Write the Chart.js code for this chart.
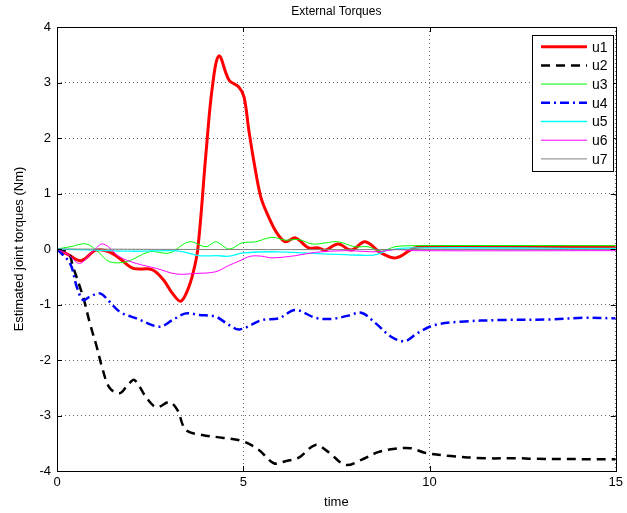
<!DOCTYPE html>
<html>
<head>
<meta charset="utf-8">
<script src="https://cdn.jsdelivr.net/npm/chart.js@4.4.1/dist/chart.umd.min.js"></script>
<style>
  html, body { margin: 0; padding: 0; background: #fff; }
  #wrap { width: 627px; height: 513px; }
</style>
</head>
<body>
<div id="wrap"><canvas id="chart" width="627" height="513"></canvas></div>
<script>
// Series data (time, torque)
const seriesNames = ['u1', 'u2', 'u3', 'u4', 'u5', 'u6', 'u7'];

const u1T = [0, 0.3, 0.65, 1.05, 1.4, 1.7, 2.05, 2.55, 2.85, 3.1, 3.32, 3.5, 3.65, 3.78, 4.0, 4.17, 4.35, 4.62, 4.88, 5.02, 5.15, 5.28, 5.47, 5.68, 5.9, 6.13, 6.4, 6.75, 7.02, 7.2, 7.55, 7.9, 8.27, 8.7, 9.1, 9.6, 10, 15];
const u1V = [0, -0.1, -0.21, -0.02, -0.05, -0.18, -0.35, -0.37, -0.55, -0.8, -0.94, -0.75, -0.44, 0, 1.73, 2.92, 3.48, 3.04, 2.92, 2.74, 2.14, 1.6, 0.94, 0.58, 0.29, 0.13, 0.2, 0.02, 0.02, -0.02, 0.09, -0.02, 0.13, -0.07, -0.16, 0.02, 0.04, 0.04];

const u2T = [0, 0.3, 0.43, 0.7, 0.88, 1.07, 1.23, 1.41, 1.68, 1.9, 2.08, 2.39, 2.67, 3.02, 3.23, 3.46, 3.9, 4.43, 4.97, 5.42, 5.82, 6.15, 6.49, 6.94, 7.29, 7.74, 8.17, 8.62, 9.07, 9.5, 9.87, 10.57, 11.48, 12.36, 12.8, 15];
const u2V = [0, -0.06, -0.32, -0.86, -1.33, -1.77, -2.18, -2.5, -2.6, -2.45, -2.36, -2.67, -2.85, -2.76, -2.9, -3.26, -3.35, -3.4, -3.46, -3.62, -3.86, -3.82, -3.76, -3.53, -3.66, -3.89, -3.8, -3.66, -3.6, -3.59, -3.67, -3.73, -3.77, -3.77, -3.78, -3.79];

const u3T = [0, 0.35, 0.79, 1.15, 1.41, 1.87, 2.48, 3.02, 3.55, 4.0, 4.26, 4.62, 4.97, 5.33, 5.77, 6.13, 6.49, 6.85, 7.2, 7.55, 8.0, 8.35, 8.7, 9.07, 9.6, 15];
const u3V = [0, 0.04, 0.09, -0.08, -0.23, -0.23, -0.05, -0.07, 0.13, 0.04, 0.13, 0, 0.11, 0.13, 0.21, 0.16, 0.17, 0.09, 0.11, 0.13, 0.04, 0.04, -0.04, 0.04, 0.06, 0.06];

const u4T = [0, 0.35, 0.53, 0.7, 0.88, 1.15, 1.41, 1.68, 2.13, 2.75, 3.1, 3.46, 3.82, 4.26, 4.62, 4.9, 5.5, 5.95, 6.4, 6.94, 7.37, 7.82, 8.17, 8.54, 8.97, 9.34, 9.69, 10.14, 10.84, 11.9, 13.25, 14.14, 15];
const u4V = [0, -0.26, -0.68, -0.92, -0.86, -0.8, -0.95, -1.13, -1.25, -1.4, -1.28, -1.16, -1.19, -1.22, -1.37, -1.45, -1.28, -1.25, -1.1, -1.24, -1.26, -1.2, -1.15, -1.33, -1.58, -1.66, -1.51, -1.37, -1.31, -1.28, -1.27, -1.24, -1.25];

const u5T = [0, 1, 2, 3, 3.4, 3.8, 4.3, 4.62, 5.0, 5.9, 6.85, 7.73, 8.5, 8.9, 9.5, 15];
const u5V = [0, -0.02, -0.04, -0.03, -0.05, -0.12, -0.12, -0.13, -0.07, -0.05, -0.08, -0.1, -0.11, -0.02, 0.02, 0.01];

const u6T = [0, 0.3, 0.61, 0.95, 1.24, 1.68, 2.13, 2.67, 3.2, 3.73, 4.26, 4.6, 4.88, 5.2, 5.5, 5.77, 6.4, 6.94, 7.73, 8.6, 9.1, 9.6, 15];
const u6V = [0, -0.1, -0.26, -0.05, 0.09, -0.14, -0.26, -0.35, -0.45, -0.44, -0.41, -0.3, -0.22, -0.13, -0.13, -0.16, -0.12, -0.06, -0.03, -0.05, -0.01, -0.03, -0.03];

const u7T = [0, 5, 10, 15];
const u7V = [0, -0.01, -0.01, -0.01];

const xTicks = [0, 5, 10, 15];
const yTicks = [-4, -3, -2, -1, 0, 1, 2, 3, 4];

// Line styles in MATLAB default look
const styles = [
    { color: '#ff0000', width: 3, dash: [] },
    { color: '#000000', width: 2.5, dash: [9, 6] },
    { color: '#00ff00', width: 1, dash: [] },
    { color: '#0000ff', width: 2.5, dash: [9, 4, 2, 4] },
    { color: '#00ffff', width: 1.3, dash: [] },
    { color: '#ff00ff', width: 1, dash: [] },
    { color: '#7f7f7f', width: 1, dash: [] }
];

function zip(t, v) {
    return t.map((x, i) => ({ x: x, y: v[i] }));
}

const allT = [u1T, u2T, u3T, u4T, u5T, u6T, u7T];
const allV = [u1V, u2V, u3V, u4V, u5V, u6V, u7V];

const datasets = seriesNames.map((name, i) => ({
    label: name,
    data: zip(allT[i], allV[i]),
    borderColor: styles[i].color,
    borderWidth: styles[i].width,
    borderDash: styles[i].dash,
    pointRadius: 0,
    fill: false,
    tension: 0.35,
    order: 6 - i
}));

const FONT = '"Liberation Sans", Arial, Helvetica, sans-serif';

// Box, inward ticks, title, axis labels and legend drawn MATLAB style
const matlabFrame = {
    id: 'matlabFrame',
    afterDraw(chart) {
        const ctx = chart.ctx;
        const a = chart.chartArea;
        const xs = chart.scales.x;
        const ys = chart.scales.y;
        ctx.save();
        ctx.strokeStyle = '#000';
        ctx.lineWidth = 1;
        ctx.setLineDash([]);
        ctx.strokeRect(Math.round(a.left) + 0.5, Math.round(a.top) + 0.5,
            Math.round(a.right - a.left), Math.round(a.bottom - a.top));

        ctx.beginPath();
        xTicks.forEach(v => {
            const px = Math.round(xs.getPixelForValue(v)) + 0.5;
            ctx.moveTo(px, a.bottom); ctx.lineTo(px, a.bottom - 5);
            ctx.moveTo(px, a.top); ctx.lineTo(px, a.top + 5);
        });
        yTicks.forEach(v => {
            const py = Math.round(ys.getPixelForValue(v)) + 0.5;
            ctx.moveTo(a.left, py); ctx.lineTo(a.left + 5, py);
            ctx.moveTo(a.right, py); ctx.lineTo(a.right - 5, py);
        });
        ctx.stroke();

        // title and axis labels
        ctx.fillStyle = '#000';
        ctx.font = '12px ' + FONT;
        ctx.textAlign = 'center';
        ctx.textBaseline = 'middle';
        ctx.fillText('External Torques', (a.left + a.right) / 2, 12);
        ctx.font = '13px ' + FONT;
        ctx.fillText('time', (a.left + a.right) / 2, 502);
        ctx.save();
        ctx.translate(19, (a.top + a.bottom) / 2);
        ctx.rotate(-Math.PI / 2);
        ctx.fillText('Estimated joint torques (Nm)', 0, 0);
        ctx.restore();

        // legend
        const lx = 532, ly = 35, lw = 81, lh = 136;
        ctx.fillStyle = '#fff';
        ctx.fillRect(lx, ly, lw, lh);
        ctx.strokeStyle = '#000';
        ctx.lineWidth = 1;
        ctx.strokeRect(lx + 0.5, ly + 0.5, lw, lh);
        ctx.font = '14px ' + FONT;
        ctx.textAlign = 'left';
        chart.data.datasets.forEach((ds, i) => {
            const y = 46.7 + i * 18.7;
            ctx.beginPath();
            ctx.strokeStyle = ds.borderColor;
            ctx.lineWidth = ds.borderWidth;
            ctx.setLineDash(ds.borderDash);
            ctx.moveTo(541, y);
            ctx.lineTo(587, y);
            ctx.stroke();
            ctx.setLineDash([]);
            ctx.fillStyle = '#000';
            ctx.fillText(ds.label, 592, y + 1);
        });
        ctx.restore();
    }
};

new Chart(document.getElementById('chart'), {
    type: 'line',
    data: { datasets: datasets },
    options: {
        responsive: false,
        animation: false,
        events: [],
        layout: { padding: { top: 27, right: 8, left: 0, bottom: 0 } },
        plugins: {
            legend: { display: false },
            title: { display: false },
            tooltip: { enabled: false }
        },
        scales: {
            x: {
                type: 'linear',
                min: 0,
                max: 15,
                afterBuildTicks: s => { s.ticks = xTicks.map(v => ({ value: v })); },
                afterFit: s => { s.height = 42; },
                ticks: { color: '#000', font: { family: FONT, size: 13 }, padding: 4, maxRotation: 0 },
                grid: { color: 'rgba(0,0,0,0.6)', lineWidth: 1, drawTicks: false },
                border: { display: false, dash: [1, 3] }
            },
            y: {
                type: 'linear',
                min: -4,
                max: 4,
                afterBuildTicks: s => { s.ticks = yTicks.map(v => ({ value: v })); },
                afterFit: s => { s.width = 57; },
                ticks: { color: '#000', font: { family: FONT, size: 13 }, padding: 6 },
                grid: { color: 'rgba(0,0,0,0.6)', lineWidth: 1, drawTicks: false },
                border: { display: false, dash: [1, 3] }
            }
        }
    },
    plugins: [matlabFrame]
});
</script>
</body>
</html>
